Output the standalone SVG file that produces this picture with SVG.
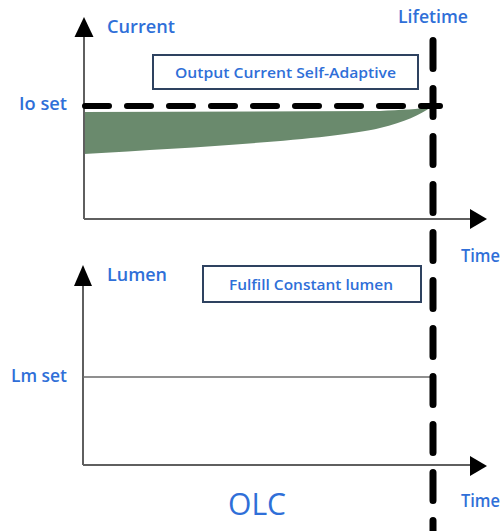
<svg xmlns="http://www.w3.org/2000/svg" width="503" height="531" viewBox="0 0 503 531">
<defs>
<style>
.axis{stroke:#5f5f5f;stroke-width:2;fill:none}
.lbl{font-family:"Open Sans","Liberation Sans",sans-serif;font-weight:600;fill:#2f6fd8;font-size:18px}
.box{fill:#fff;stroke:#2e4260;stroke-width:2}
.btxt{font-family:"Open Sans","Liberation Sans",sans-serif;font-weight:600;fill:#2f6fd8;font-size:14.5px}
.dash{stroke:#000;fill:none;stroke-linecap:round}
</style>
</defs>
<rect width="503" height="531" fill="#fff"/>
<g id="top-chart">
<path d="M84,112 L84,154 C200,147 330,140 380,128 C405,122 420,115 431,107 C420,109 400,110 380,111 L84,112 Z" fill="#6a8a6d"/>
<line class="axis" x1="84" y1="219" x2="84" y2="36"/>
<polygon points="84,17 74.5,37 93.5,37" fill="#000"/>
<line class="axis" x1="84" y1="219" x2="470" y2="219"/>
<polygon points="487,219 470,209 470,229" fill="#000"/>
<line class="dash" x1="85" y1="106" x2="440" y2="106" stroke-width="6" stroke-dasharray="24 18"/>
<text class="lbl" x="107" y="33" textLength="68" lengthAdjust="spacingAndGlyphs">Current</text>
<text class="lbl" x="19" y="110" textLength="48" lengthAdjust="spacingAndGlyphs">Io set</text>
<text class="lbl" x="461" y="262" textLength="39" lengthAdjust="spacingAndGlyphs">Time</text>
</g>
<g id="box-output">
<rect class="box" x="153" y="55" width="265" height="34"/>
<text class="btxt" x="285.5" y="77.5" text-anchor="middle" textLength="221" lengthAdjust="spacingAndGlyphs">Output  Current Self-Adaptive</text>
</g>
<g id="bottom-chart">
<line class="axis" x1="83" y1="465" x2="83" y2="284"/>
<polygon points="83,265 74,286 92,286" fill="#000"/>
<line class="axis" x1="83" y1="465" x2="470" y2="465"/>
<polygon points="487,466 470,456 470,476" fill="#000"/>
<line x1="83" y1="377" x2="433" y2="377" stroke="#6a6a6a" stroke-width="1.6"/>
<text class="lbl" x="107" y="281" textLength="60" lengthAdjust="spacingAndGlyphs">Lumen</text>
<text class="lbl" x="11" y="382" textLength="56" lengthAdjust="spacingAndGlyphs">Lm set</text>
<text class="lbl" x="461" y="507" textLength="39" lengthAdjust="spacingAndGlyphs">Time</text>
<text x="257" y="515" text-anchor="middle" font-family="'Open Sans','Liberation Sans',sans-serif" font-size="31" fill="#2f6fd8" textLength="58" lengthAdjust="spacingAndGlyphs">OLC</text>
</g>
<g id="box-lumen">
<rect class="box" x="203" y="266" width="218" height="36"/>
<text class="btxt" x="311" y="290" text-anchor="middle" textLength="164" lengthAdjust="spacingAndGlyphs">Fulfill Constant  lumen</text>
</g>
<g id="lifetime">
<line class="dash" x1="433" y1="40.5" x2="433" y2="540" stroke-width="7" stroke-dasharray="28 20"/>
<text class="lbl" x="398" y="23" textLength="70" lengthAdjust="spacingAndGlyphs">Lifetime</text>
</g>
</svg>
